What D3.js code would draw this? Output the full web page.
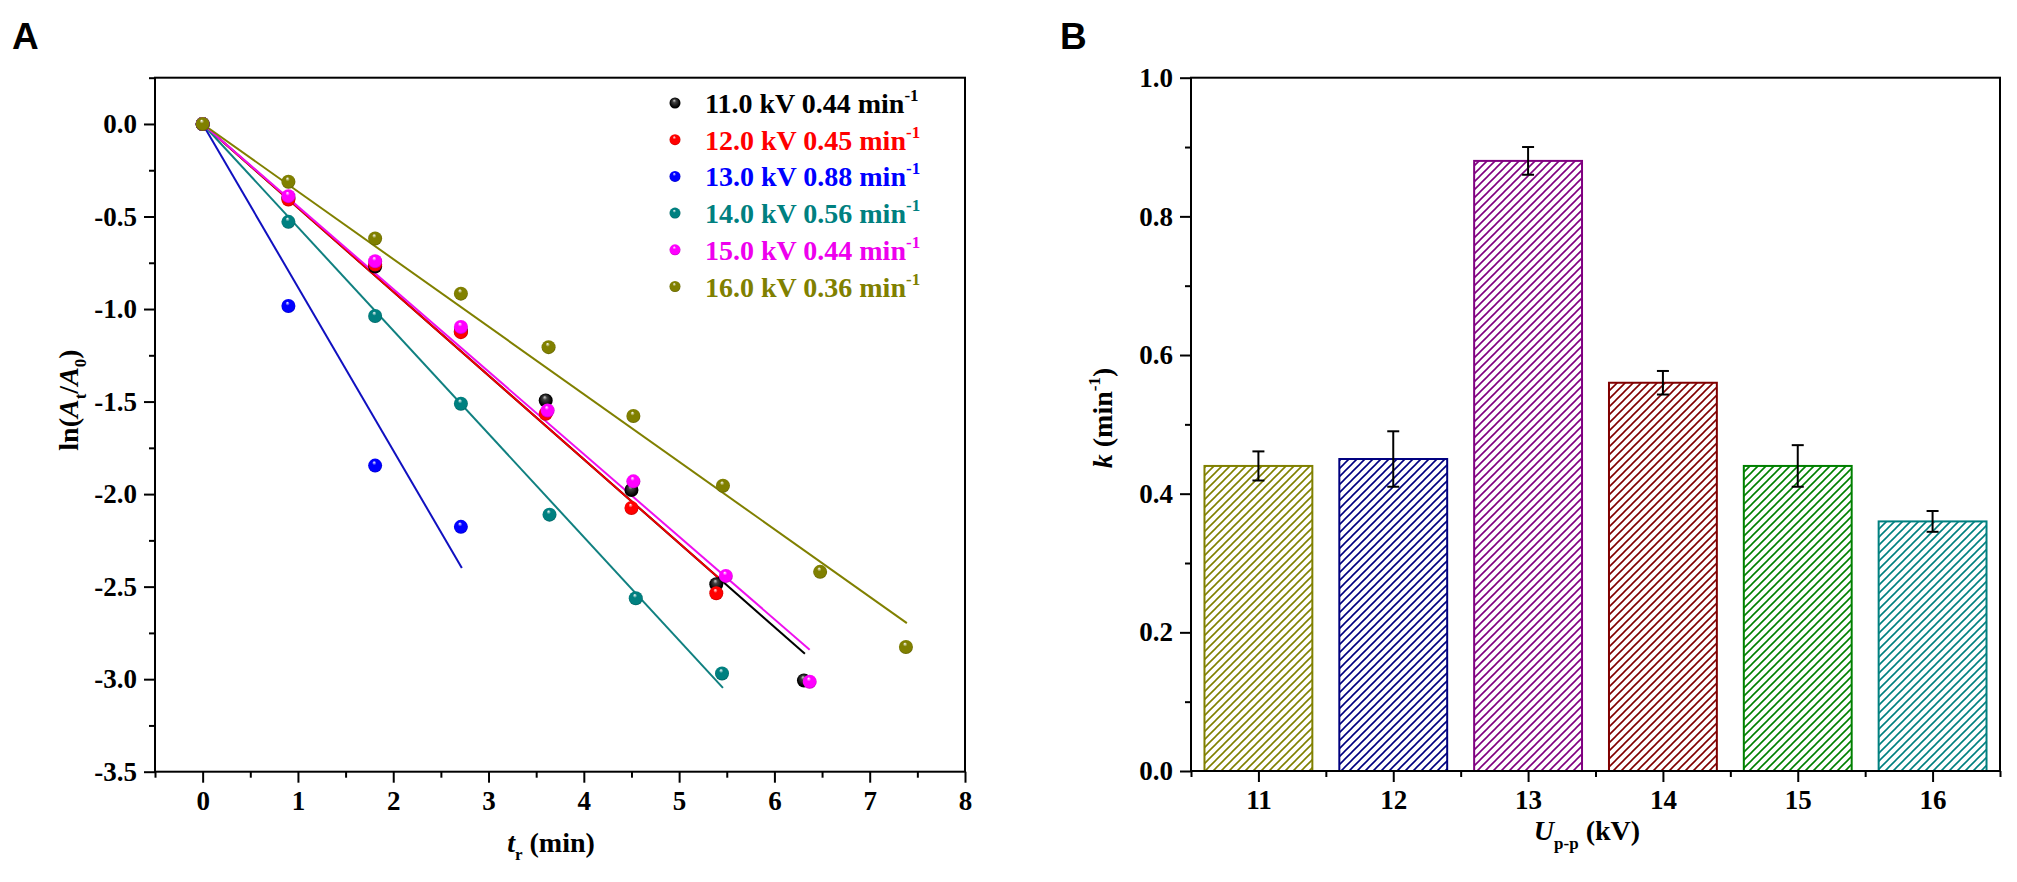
<!DOCTYPE html>
<html><head><meta charset="utf-8">
<script src="https://cdn.jsdelivr.net/npm/d3@7"></script>
<style>
body{margin:0;background:#fff;}
svg{display:block;}
text{font-family:"Liberation Serif","Times New Roman",serif;font-weight:bold;}
</style>
</head><body><svg id="chart" width="2017" height="882"></svg>
<script>
// ---------- Panel A data ----------
const seriesVoltages = ["11.0", "12.0", "13.0", "14.0", "15.0", "16.0"];
const seriesRates = ["0.44", "0.45", "0.88", "0.56", "0.44", "0.36"];
const seriesColors = ["#000000", "#ff0000", "#0000ff", "#008080", "#ff00ff", "#808000"];
const lineColors = ["#000000", "#ee0000", "#1010c0", "#108080", "#ee10ee", "#808000"];

const t11 = [0, 0.90, 1.81, 2.71, 3.60, 4.50, 5.39, 6.31];
const v11 = [0, -0.40, -0.77, -1.12, -1.494, -1.978, -2.487, -3.007];
const t12 = [0, 0.90, 1.81, 2.71, 3.60, 4.50, 5.39];
const v12 = [0, -0.408, -0.76, -1.125, -1.566, -2.075, -2.536];
const t13 = [0, 0.90, 1.81, 2.71];
const v13 = [0, -0.984, -1.846, -2.177];
const t14 = [0, 0.90, 1.81, 2.71, 3.64, 4.545, 5.45];
const v14 = [0, -0.529, -1.038, -1.512, -2.111, -2.563, -2.969];
const t15 = [0, 0.90, 1.81, 2.71, 3.62, 4.52, 5.49, 6.37];
const v15 = [0, -0.39, -0.742, -1.097, -1.548, -1.931, -2.442, -3.014];
const t16 = [0, 0.90, 1.81, 2.71, 3.63, 4.52, 5.46, 6.48, 7.38];
const v16 = [0, -0.312, -0.619, -0.917, -1.206, -1.578, -1.955, -2.420, -2.826];

const fitSlopes = [0.453, 0.453, 0.882, 0.558, 0.446, 0.365];
const fitEnds = [6.32, 5.41, 2.72, 5.46, 6.37, 7.39];

const xTicksA = [0, 1, 2, 3, 4, 5, 6, 7, 8];
const xMinorA = [-0.5, 0.5, 1.5, 2.5, 3.5, 4.5, 5.5, 6.5, 7.5];
const yTicksA = [0, -0.5, -1.0, -1.5, -2.0, -2.5, -3.0, -3.5];
const yTickLabelsA = ["0.0", "-0.5", "-1.0", "-1.5", "-2.0", "-2.5", "-3.0", "-3.5"];
const yMinorA = [0.25, -0.25, -0.75, -1.25, -1.75, -2.25, -2.75, -3.25];

// ---------- Panel B data ----------
const voltagesB = [11, 12, 13, 14, 15, 16];
const kValues = [0.44, 0.45, 0.88, 0.56, 0.44, 0.36];
const kErrors = [0.021, 0.04, 0.02, 0.017, 0.03, 0.015];
const barColors = ["#808000", "#000080", "#800080", "#800000", "#008000", "#008080"];
const yTicksB = [0, 0.2, 0.4, 0.6, 0.8, 1.0];
const yTickLabelsB = ["0.0", "0.2", "0.4", "0.6", "0.8", "1.0"];
const yMinorB = [0.1, 0.3, 0.5, 0.7, 0.9];
const xMinorB = [10.5, 11.5, 12.5, 13.5, 14.5, 15.5, 16.5];

const svg = d3.select("#chart");
const defs = svg.append("defs");

// ball gradients
seriesColors.forEach((c, i) => {
  const g = defs.append("radialGradient").attr("id", "ball" + i)
    .attr("cx", "0.5").attr("cy", "0.5").attr("r", "0.55")
    .attr("fx", "0.42").attr("fy", "0.25");
  const base = d3.color(c);
  const light = i === 0 ? "#d0d0d0" : "#ffffff";
  g.append("stop").attr("offset", "0%").attr("stop-color", light);
  g.append("stop").attr("offset", "28%").attr("stop-color", i === 0 ? "#404040" : base.formatHex());
  g.append("stop").attr("offset", "80%").attr("stop-color", base.formatHex());
  g.append("stop").attr("offset", "100%").attr("stop-color", base.darker(1.2).formatHex());
});

// hatch patterns
barColors.forEach((c, i) => {
  const p = defs.append("pattern").attr("id", "hatch" + i)
    .attr("patternUnits", "userSpaceOnUse").attr("width", 8).attr("height", 8);
  p.append("rect").attr("width", 8).attr("height", 8).attr("fill", "#ffffff");
  p.append("path").attr("d", "M-2,2 L2,-2 M0,8 L8,0 M6,10 L10,6")
    .attr("stroke", c).attr("stroke-width", 1.6).attr("fill", "none");
});

function drawAxes(g, x, y, xMaj, xMin, yMaj, yMin, xFmt, yFmt) {
  const y0 = y.range()[0];
  const x0 = x.range()[0];
  g.append("g").attr("transform", `translate(0,${y0})`)
    .call(d3.axisBottom(x).tickValues(xMin).tickSize(6).tickFormat("").tickSizeOuter(0));
  g.append("g").attr("transform", `translate(0,${y0})`)
    .call(d3.axisBottom(x).tickValues(xMaj).tickSize(11).tickPadding(8).tickFormat(xFmt).tickSizeOuter(0));
  g.append("g").attr("transform", `translate(${x0},0)`)
    .call(d3.axisLeft(y).tickValues(yMin).tickSize(6).tickFormat("").tickSizeOuter(0));
  g.append("g").attr("transform", `translate(${x0},0)`)
    .call(d3.axisLeft(y).tickValues(yMaj).tickSize(11).tickPadding(7).tickFormat(yFmt).tickSizeOuter(0));
  g.selectAll(".domain").remove();
  g.selectAll(".tick line").attr("stroke", "#000").attr("stroke-width", 2);
  g.selectAll(".tick text").style("font-family", '"Liberation Serif","Times New Roman",serif')
    .style("font-weight", "bold").style("font-size", "27px").attr("fill", "#000");
  g.append("rect").attr("x", x.range()[0]).attr("y", y.range()[1])
    .attr("width", x.range()[1] - x.range()[0]).attr("height", y.range()[0] - y.range()[1])
    .attr("fill", "none").attr("stroke", "#000").attr("stroke-width", 2);
}

// ---------- Panel A ----------
const xA = d3.scaleLinear().domain([-0.5, 8]).range([155, 965]);
const yA = d3.scaleLinear().domain([-3.5, 0.25]).range([771.7, 77.7]);
const gA = svg.append("g");
drawAxes(gA, xA, yA, xTicksA, xMinorA, yTicksA, yMinorA,
  d => String(d), d => yTickLabelsA[yTicksA.indexOf(d)]);

const tArrs = [t11, t12, t13, t14, t15, t16];
const vArrs = [v11, v12, v13, v14, v15, v16];

// fit lines
fitSlopes.forEach((k, i) => {
  gA.append("line")
    .attr("x1", xA(0)).attr("y1", yA(0))
    .attr("x2", xA(fitEnds[i])).attr("y2", yA(-k * fitEnds[i]))
    .attr("stroke", lineColors[i]).attr("stroke-width", 2);
});
// points
tArrs.forEach((ts, i) => {
  gA.append("g").selectAll("circle").data(ts).join("circle")
    .attr("cx", d => xA(d)).attr("cy", (d, j) => yA(vArrs[i][j]))
    .attr("r", 7).attr("fill", `url(#ball${i})`);
});

// legend
const legA = gA.append("g");
seriesVoltages.forEach((v, i) => {
  const cy = 103 + i * 36.7;
  legA.append("circle").attr("cx", 675).attr("cy", cy).attr("r", 5.5).attr("fill", `url(#ball${i})`);
  const t = legA.append("text").attr("x", 705).attr("y", cy + 10)
    .attr("fill", seriesColors[i] === "#ff00ff" ? "#ee00ee" : seriesColors[i])
    .style("font-size", "28px");
  t.append("tspan").text(`${v} kV ${seriesRates[i]} min`);
  t.append("tspan").attr("dy", -12).style("font-size", "17px").text("-1");
});

// axis titles A
const xtA = gA.append("text").attr("x", 551).attr("y", 852).attr("text-anchor", "middle").style("font-size", "28px");
xtA.append("tspan").style("font-style", "italic").text("t");
xtA.append("tspan").attr("dy", 8).style("font-size", "17px").text("r");
xtA.append("tspan").attr("dy", -8).text(" (min)");

const ytA = gA.append("text").attr("transform", "translate(78,400) rotate(-90)")
  .attr("text-anchor", "middle").style("font-size", "28px");
ytA.append("tspan").text("ln(");
ytA.append("tspan").style("font-style", "italic").text("A");
ytA.append("tspan").attr("dy", 8).style("font-size", "17px").text("t");
ytA.append("tspan").attr("dy", -8).text("/");
ytA.append("tspan").style("font-style", "italic").text("A");
ytA.append("tspan").attr("dy", 8).style("font-size", "17px").text("0");
ytA.append("tspan").attr("dy", -8).text(")");

svg.append("text").attr("x", 12).attr("y", 49).text("A")
  .style("font-family", '"Liberation Sans",Arial,sans-serif').style("font-size", "37px");

// ---------- Panel B ----------
const xB = d3.scaleLinear().domain([10.5, 16.5]).range([1191, 2000]);
const yB = d3.scaleLinear().domain([0, 1.0]).range([771, 77.7]);
const gB = svg.append("g");

// bars
gB.append("g").selectAll("rect").data(voltagesB).join("rect")
  .attr("x", d => xB(d - 0.4)).attr("width", d => xB(d + 0.4) - xB(d - 0.4))
  .attr("y", (d, i) => yB(kValues[i])).attr("height", (d, i) => yB(0) - yB(kValues[i]))
  .attr("fill", (d, i) => `url(#hatch${i})`)
  .attr("stroke", (d, i) => barColors[i]).attr("stroke-width", 2);

drawAxes(gB, xB, yB, voltagesB, xMinorB, yTicksB, yMinorB,
  d => String(d), d => yTickLabelsB[yTicksB.indexOf(d)]);

// error bars
const eb = gB.append("g").attr("stroke", "#000").attr("stroke-width", 2);
voltagesB.forEach((d, i) => {
  const cx = xB(d), top = yB(kValues[i] + kErrors[i]), bot = yB(kValues[i] - kErrors[i]);
  eb.append("line").attr("x1", cx).attr("x2", cx).attr("y1", top).attr("y2", bot);
  eb.append("line").attr("x1", cx - 6).attr("x2", cx + 6).attr("y1", top).attr("y2", top);
  eb.append("line").attr("x1", cx - 6).attr("x2", cx + 6).attr("y1", bot).attr("y2", bot);
});

const xtB = gB.append("text").attr("x", 1587).attr("y", 840).attr("text-anchor", "middle").style("font-size", "28px");
xtB.append("tspan").style("font-style", "italic").text("U");
xtB.append("tspan").attr("dy", 9).style("font-size", "17px").text("p-p");
xtB.append("tspan").attr("dy", -9).text(" (kV)");

const ytB = gB.append("text").attr("transform", "translate(1112,418) rotate(-90)")
  .attr("text-anchor", "middle").style("font-size", "28px");
ytB.append("tspan").style("font-style", "italic").text("k");
ytB.append("tspan").text(" (min");
ytB.append("tspan").attr("dy", -12).style("font-size", "17px").text("-1");
ytB.append("tspan").attr("dy", 12).text(")");

svg.append("text").attr("x", 1060).attr("y", 49).text("B")
  .style("font-family", '"Liberation Sans",Arial,sans-serif').style("font-size", "37px");
</script></body></html>
